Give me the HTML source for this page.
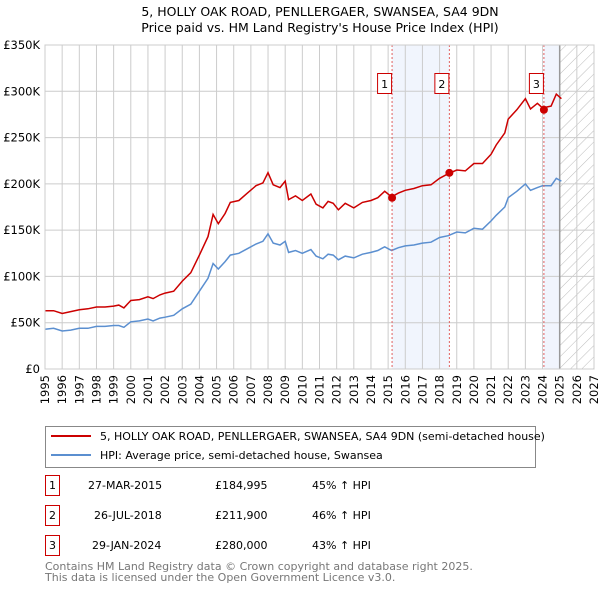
<!DOCTYPE html>
<html><head><meta charset="utf-8"><style>
body{margin:0;width:600px;height:590px;background:#fff;font-family:"Liberation Sans","DejaVu Sans",sans-serif;overflow:hidden}
</style></head><body>
<svg width="600" height="590" font-family="DejaVu Sans, Liberation Sans, sans-serif">
<text x="320" y="16" text-anchor="middle" font-size="12.5">5, HOLLY OAK ROAD, PENLLERGAER, SWANSEA, SA4 9DN</text>
<text x="320" y="32" text-anchor="middle" font-size="12.5">Price paid vs. HM Land Registry's House Price Index (HPI)</text>
<defs><pattern id="hatch" width="8" height="8" patternUnits="userSpaceOnUse" patternTransform="rotate(45)"><line x1="0" y1="0" x2="0" y2="8" stroke="#bbb" stroke-width="1"/></pattern></defs>
<g id="plot"></g>
<g>
<rect x="45.5" y="426.5" width="490" height="41" fill="#fff" stroke="#888"/>
<line x1="51" y1="436" x2="91" y2="436" stroke="#cc0000" stroke-width="2"/>
<text x="100" y="440" font-size="11">5, HOLLY OAK ROAD, PENLLERGAER, SWANSEA, SA4 9DN (semi-detached house)</text>
<line x1="51" y1="455" x2="91" y2="455" stroke="#5b8fd0" stroke-width="2"/>
<text x="100" y="459" font-size="11">HPI: Average price, semi-detached house, Swansea</text>
</g>
<g font-size="11">
<rect x="45.5" y="475.5" width="14" height="20" fill="none" stroke="#cc0000"/><text x="52.5" y="489" text-anchor="middle">1</text>
<text x="88" y="489">27-MAR-2015</text><text x="215" y="489">£184,995</text><text x="312" y="489">45% ↑ HPI</text>
<rect x="45.5" y="505.5" width="14" height="20" fill="none" stroke="#cc0000"/><text x="52.5" y="519" text-anchor="middle">2</text>
<text x="94" y="519">26-JUL-2018</text><text x="215" y="519">£211,900</text><text x="312" y="519">46% ↑ HPI</text>
<rect x="45.5" y="535.5" width="14" height="20" fill="none" stroke="#cc0000"/><text x="52.5" y="549" text-anchor="middle">3</text>
<text x="92" y="549">29-JAN-2024</text><text x="215" y="549">£280,000</text><text x="312" y="549">43% ↑ HPI</text>
</g>
<text x="45" y="570" font-size="11" fill="#777">Contains HM Land Registry data © Crown copyright and database right 2025.</text>
<text x="45" y="581" font-size="11" fill="#777">This data is licensed under the Open Government Licence v3.0.</text>
</svg>
<script>
const hpiT=[1995,1995.5,1996,1996.5,1997,1997.5,1998,1998.5,1999,1999.3,1999.6,2000,2000.5,2001,2001.3,2001.7,2002,2002.5,2003,2003.5,2004,2004.5,2004.8,2005.1,2005.5,2005.8,2006.3,2006.8,2007.3,2007.7,2008,2008.3,2008.7,2009,2009.2,2009.6,2010,2010.5,2010.8,2011.2,2011.5,2011.8,2012.1,2012.5,2013,2013.5,2014,2014.4,2014.8,2015.2,2015.6,2016,2016.5,2017,2017.5,2018,2018.5,2019,2019.5,2020,2020.5,2021,2021.3,2021.8,2022,2022.5,2023,2023.3,2023.7,2024,2024.5,2024.8,2025.1];
const hpiV=[43,44,41,42,44,44,46,46,47,47,45,51,52,54,52,55,56,58,65,70,84,98,114,108,116,123,125,130,135,138,146,136,134,138,126,128,125,129,122,119,124,123,118,122,120,124,126,128,132,128,131,133,134,136,137,142,144,148,147,152,151,160,166,175,185,192,200,193,196,198,198,206,203];
const propV=[63,63,60,62,64,65,67,67,68,69,66,74,75,78,76,80,82,84,95,104,123,143,167,157,168,180,182,190,198,201,212,199,196,203,183,187,182,189,178,174,181,179,172,179,174,180,182,185,192,186,190,193,195,198,199,206,211,215,214,222,222,232,242,255,270,280,292,281,287,282,284,297,292];
const saleT=[2015.23,2018.57,2024.08];
const saleV=[184.995,211.9,280];
const yTicks=[0,50,100,150,200,250,300,350];
const yLabels=["£0","£50K","£100K","£150K","£200K","£250K","£300K","£350K"];
const xTicks=[1995,1996,1997,1998,1999,2000,2001,2002,2003,2004,2005,2006,2007,2008,2009,2010,2011,2012,2013,2014,2015,2016,2017,2018,2019,2020,2021,2022,2023,2024,2025,2026,2027];
const L=45,R=594,T=45,B=369;
const X=t=>L+(t-1995)/32*(R-L), Y=v=>B-v/350*(B-T);
const NS="http://www.w3.org/2000/svg", g=document.getElementById('plot');
function mk(tag,a,p){const e=document.createElementNS(NS,tag);for(const k in a)e.setAttribute(k,a[k]);(p||g).appendChild(e);return e;}
let e;
e=mk('rect',{x:X(saleT[0]),y:T,width:X(saleT[1])-X(saleT[0]),height:B-T,fill:'#eef3fc',opacity:0.8});

e=mk('rect',{x:X(saleT[2]),y:T,width:X(2025)-X(saleT[2]),height:B-T,fill:'#eef3fc',opacity:0.8});

e=mk('rect',{x:X(2025),y:T,width:R-X(2025),height:B-T,fill:'url(#hatch)'});

yTicks.forEach((v,i)=>{e=mk('line',{x1:L,x2:R,y1:Y(v),y2:Y(v),stroke:'#ccc'});

e=mk('text',{x:L-5,y:Y(v)+4,'text-anchor':'end','font-size':'11.5'});e.textContent=yLabels[i];
});
xTicks.forEach(t=>{e=mk('line',{x1:X(t),x2:X(t),y1:T,y2:B,stroke:'#ccc'});

e=mk('text',{x:0,y:0,'text-anchor':'end','font-size':'11.5',transform:`translate(${X(t)+4},${B+6}) rotate(-90)`});e.textContent=t;
});
e=mk('line',{x1:X(2025),x2:X(2025),y1:T,y2:B,stroke:'#999','stroke-width':1.5});

function path(vals,col,name){const d=hpiT.map((t,i)=>(i?'L':'M')+X(t).toFixed(1)+','+Y(vals[i]).toFixed(1)).join('');
const p=mk('path',{d:d,fill:'none',stroke:col,'stroke-width':1.5});
}
path(hpiV,'#5b8fd0','hpi-line');path(propV,'#cc0000','property-line');
saleT.forEach((t,i)=>{e=mk('line',{x1:X(t),x2:X(t),y1:T,y2:B,stroke:'#e06060','stroke-dasharray':'2,2'});

e=mk('circle',{cx:X(t),cy:Y(saleV[i]),r:4,fill:'#cc0000'});

e=mk('rect',{x:X(t)-14.5,y:73.5,width:14,height:20,fill:'#fff',stroke:'#cc0000'});

e=mk('text',{x:X(t)-7.5,y:88,'text-anchor':'middle','font-size':'11'});e.textContent=String(i+1);
});
e=mk('rect',{x:L,y:T,width:R-L,height:B-T,fill:'none',stroke:'#ccc'});

</script>
</body></html>
